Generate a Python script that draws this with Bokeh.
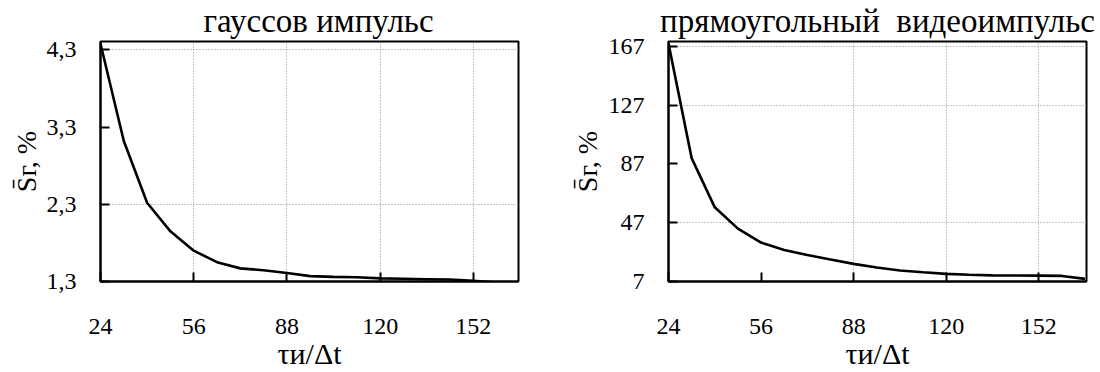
from bokeh.plotting import figure
from bokeh.models import Range1d, FixedTicker, Title
from bokeh.layouts import row
from bokeh.embed import file_html
from bokeh.resources import INLINE

# ---------------- data ----------------
x_vals = [24, 32, 40, 48, 56, 64, 72, 80, 88, 96, 104, 112, 120, 128, 136, 144, 152, 160, 168]
gauss_vals = [4.38, 3.12, 2.32, 1.95, 1.70, 1.55, 1.47, 1.445, 1.41, 1.37, 1.36, 1.355,
              1.34, 1.335, 1.33, 1.325, 1.31, 1.285, 1.28]
rect_vals = [169, 91, 57.5, 43, 33.5, 28.5, 25, 22, 19, 16.5, 14.5, 13.3,
             12.2, 11.6, 11.2, 11.1, 11.0, 10.8, 8.8]

x_ticks = [24, 56, 88, 120, 152]
x_tick_labels = ["24", "56", "88", "120", "152"]
gauss_y_ticks = [1.3, 2.3, 3.3, 4.3]
gauss_y_tick_labels = ["1,3", "2,3", "3,3", "4,3"]
rect_y_ticks = [7, 47, 87, 127, 167]
rect_y_tick_labels = ["7", "47", "87", "127", "167"]

gauss_grid_x = [56, 88, 120, 152]
gauss_grid_y = [2.3, 4.3]
rect_grid_x = [88, 120, 152]
rect_grid_y = [47, 127, 167]

titles = ["гауссов импульс", "прямоугольный\u00a0 видеоимпульс"]
x_label = "τи/Δt"
y_label = "S\u0304г, %"

FONT = "Liberation Serif"


def make_fig(width, bl, br, x_end, y_start, y_end, ys, yticks, ylabels,
             gx, gy, title, title_align, title_dx, ylab_standoff):
    p = figure(width=width, height=372, output_backend="svg", toolbar_location=None,
               title=None, x_range=Range1d(24, x_end), y_range=Range1d(y_start, y_end),
               min_border_left=bl, min_border_right=br, min_border_top=41,
               min_border_bottom=90, background_fill_color="white",
               border_fill_color="white")
    p.outline_line_color = "black"
    p.outline_line_width = 2
    p.outline_line_alpha = 1.0

    p.add_layout(Title(text=title, align=title_align, offset=title_dx, standoff=1,
                       text_font=FONT, text_font_size="33px", text_font_style="normal",
                       text_color="black", vertical_align="top"), "above")

    p.line(x_vals, ys, line_color="black", line_width=2.6)

    for ax in (p.xaxis[0], p.yaxis[0]):
        ax.axis_line_color = "black"
        ax.axis_line_width = 2
        ax.major_tick_line_color = "black"
        ax.major_tick_line_width = 2
        ax.major_tick_in = 9
        ax.major_tick_out = 0
        ax.minor_tick_line_color = None
        ax.major_label_text_font = FONT
        ax.major_label_text_font_size = "24px"
        ax.major_label_text_color = "black"
        ax.axis_label_text_font = FONT
        ax.axis_label_text_font_style = "normal"
        ax.axis_label_text_color = "black"

    xa = p.xaxis[0]
    xa.ticker = FixedTicker(ticks=x_ticks)
    xa.major_label_overrides = {t: l for t, l in zip(x_ticks, x_tick_labels)}
    xa.major_label_standoff = 37
    xa.axis_label = x_label
    xa.axis_label_text_font_size = "30px"
    xa.axis_label_standoff = 0

    ya = p.yaxis[0]
    ya.ticker = FixedTicker(ticks=yticks)
    ya.major_label_overrides = {t: l for t, l in zip(yticks, ylabels)}
    ya.major_label_standoff = 24
    ya.axis_label = y_label
    ya.axis_label_text_font_size = "28px"
    ya.axis_label_standoff = ylab_standoff

    p.xgrid[0].ticker = FixedTicker(ticks=gx)
    p.ygrid[0].ticker = FixedTicker(ticks=gy)
    for g in (p.xgrid[0], p.ygrid[0]):
        g.grid_line_color = "#8c8c8c"
        g.grid_line_dash = "1 2"
        g.grid_line_width = 1
    return p


p1 = make_fig(560, 100, 42, 167.5, 1.3, 4.41, gauss_vals, gauss_y_ticks,
              gauss_y_tick_labels, gauss_grid_x, gauss_grid_y, titles[0], "left", 103, 2)
p2 = make_fig(540, 108, 14, 168.5, 7, 170.4, rect_vals, rect_y_ticks,
              rect_y_tick_labels, rect_grid_x, rect_grid_y, titles[1], "center", 0, 3)

layout = row(p1, p2)
open("out.html", "w").write(file_html(layout, INLINE))
